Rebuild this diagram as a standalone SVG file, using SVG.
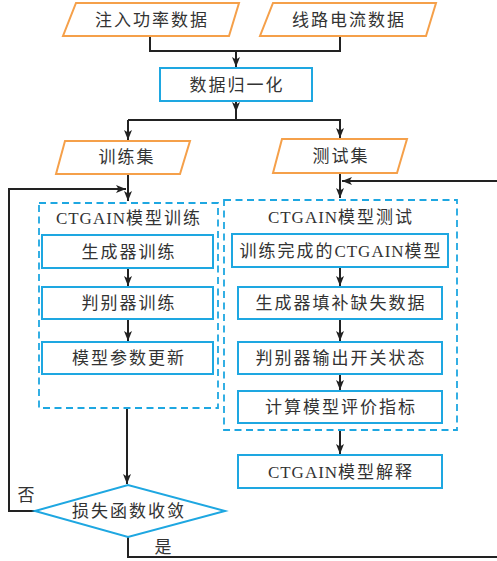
<svg xmlns="http://www.w3.org/2000/svg" width="497" height="561" viewBox="0 0 497 561">
<style>
.io{fill:#fff;stroke:#f5a04a;stroke-width:2}
.bx{fill:#fff;stroke:#1ea7e1;stroke-width:2}
.ds{fill:none;stroke:#1ea7e1;stroke-width:1.8;stroke-dasharray:7,4.5}
.t{font-family:"Liberation Serif","Noto Sans CJK SC",serif;font-size:17px;fill:#333;text-anchor:middle;letter-spacing:2px}
.l{letter-spacing:1px}
.c{fill:none;stroke:#222;stroke-width:2}
</style>
<defs>
<marker id="ah" viewBox="0 0 10 8" refX="10" refY="4" markerWidth="10" markerHeight="8" markerUnits="userSpaceOnUse" orient="auto">
<path d="M0,0 L10,4 L0,8 L2.5,4 Z" fill="#222"/>
</marker>
</defs>
<rect width="497" height="561" fill="#fff"/>
<g id="connectors">
<path class="c" d="M150,36 V51 H340 V36"/>
<path class="c" d="M236,51 V67" marker-end="url(#ah)"/>
<path class="c" d="M236,101 V112" marker-end="url(#ah)"/>
<path class="c" d="M236,110 V120"/>
<path class="c" d="M128,120 H340 V138" marker-end="url(#ah)"/>
<path class="c" d="M128,120 V140" marker-end="url(#ah)"/>
<path class="c" d="M128,174 V201" marker-end="url(#ah)"/>
<path class="c" d="M340,173 V198" marker-end="url(#ah)"/>
<path class="c" d="M35,511 H9 V189 H126" marker-end="url(#ah)"/>
<path class="c" d="M128,537 V557 H499 V181 H342" marker-end="url(#ah)"/>
<path class="c" d="M128,268 V286" marker-end="url(#ah)"/>
<path class="c" d="M128,319 V341" marker-end="url(#ah)"/>
<path class="c" d="M127,408 V484" marker-end="url(#ah)"/>
<path class="c" d="M340,267 V286" marker-end="url(#ah)"/>
<path class="c" d="M340,319 V341" marker-end="url(#ah)"/>
<path class="c" d="M340,374 V390" marker-end="url(#ah)"/>
<path class="c" d="M340,430 V454" marker-end="url(#ah)"/>
</g>
<g id="n-inject"><polygon class="io" points="76,3 239,3 229,36 63,36"/><text class="t" x="152" y="26">注入功率数据</text></g>
<g id="n-line"><polygon class="io" points="273,3 436,3 426,36 260,36"/><text class="t" x="349" y="26">线路电流数据</text></g>
<g id="n-norm"><rect class="bx" x="160" y="68" width="152" height="33"/><text class="t" x="237" y="91">数据归一化</text></g>
<g id="n-train"><polygon class="io" points="65,141 190,141 180,174 56,174"/><text class="t" x="127" y="163">训练集</text></g>
<g id="n-test"><polygon class="io" points="282,139 407,139 397,173 273,173"/><text class="t" x="341" y="162">测试集</text></g>
<g id="g-train"><rect class="ds" x="39" y="203" width="179" height="205"/><text class="t" x="129" y="224"><tspan class="l">CTGAIN</tspan>模型训练</text></g>
<g id="n-gen"><rect class="bx" x="42" y="235" width="171" height="33"/><text class="t" x="129" y="258">生成器训练</text></g>
<g id="n-dis"><rect class="bx" x="42" y="287" width="171" height="32"/><text class="t" x="129" y="309">判别器训练</text></g>
<g id="n-upd"><rect class="bx" x="42" y="342" width="171" height="32"/><text class="t" x="129" y="364">模型参数更新</text></g>
<g id="g-test"><rect class="ds" x="224" y="200" width="233" height="230"/><text class="t" x="341" y="223"><tspan class="l">CTGAIN</tspan>模型测试</text></g>
<g id="n-done"><rect class="bx" x="232" y="234" width="216" height="33"/><text class="t" x="341" y="257">训练完成的<tspan class="l">CTGAIN</tspan>模型</text></g>
<g id="n-fill"><rect class="bx" x="238" y="287" width="204" height="32"/><text class="t" x="341" y="309">生成器填补缺失数据</text></g>
<g id="n-out"><rect class="bx" x="238" y="342" width="204" height="32"/><text class="t" x="341" y="364">判别器输出开关状态</text></g>
<g id="n-eval"><rect class="bx" x="238" y="391" width="204" height="32"/><text class="t" x="341" y="413">计算模型评价指标</text></g>
<g id="n-explain"><rect class="bx" x="238" y="455" width="204" height="33"/><text class="t" x="341" y="478"><tspan class="l">CTGAIN</tspan>模型解释</text></g>
<g id="n-conv"><polygon class="bx" points="35,511 128,485 225,511 128,537"/><text class="t" x="129" y="517">损失函数收敛</text></g>
<g id="labels"><text class="t" x="27" y="501">否</text><text class="t" x="164" y="553">是</text></g>
</svg>
